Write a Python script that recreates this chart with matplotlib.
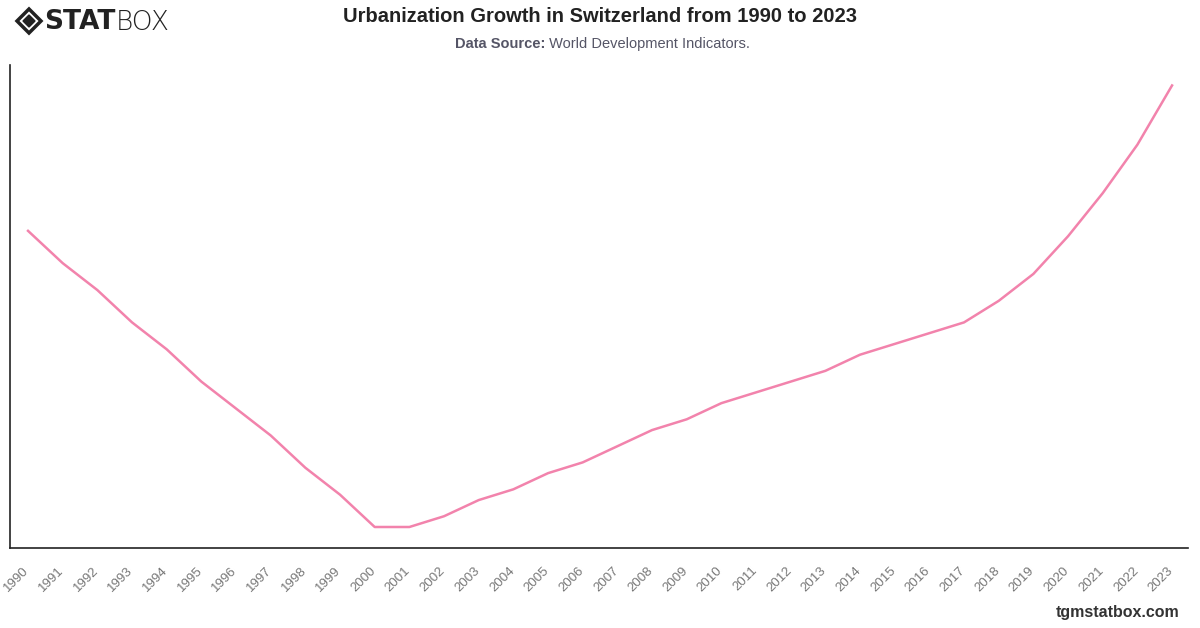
import matplotlib
matplotlib.use("Agg")
import matplotlib.pyplot as plt
import matplotlib.transforms as mtransforms
from matplotlib.patches import RegularPolygon

# Urban population (% of total), Switzerland
years = list(range(1990, 2024))
urban_pct = [73.85, 73.79, 73.74, 73.68, 73.63, 73.57, 73.52, 73.47, 73.41, 73.36,
             73.30, 73.30, 73.32, 73.35, 73.37, 73.40, 73.42, 73.45, 73.48, 73.50,
             73.53, 73.55, 73.57, 73.59, 73.62, 73.64, 73.66, 73.68, 73.72, 73.77,
             73.84, 73.92, 74.01, 74.12]
year_labels = [str(y) for y in years]

title = "Urbanization Growth in Switzerland from 1990 to 2023"
source_bold = "Data Source:"
source_text = " World Development Indicators."
footer = "tgmstatbox.com"

plt.rcParams['font.family'] = ['Liberation Sans', 'DejaVu Sans']

fig = plt.figure(figsize=(12, 6.28), dpi=100)
ax = fig.add_axes([10 / 1200, 1 - 548 / 628, 1178 / 1200, 483 / 628])

ax.plot(years, urban_pct, color='#f283ac', linewidth=1.8)

ax.set_xlim(1989.48, 2023.46)
ax.set_ylim(73.261, 74.158)
ax.set_xticks(years)
ax.set_xticklabels(year_labels, rotation=45, ha='right', rotation_mode='anchor',
                   color='#777777', fontsize=9.5)
ax.tick_params(axis='x', length=0, pad=6)
# nudge labels left/down like the original
shift = mtransforms.ScaledTranslation(-5 / 100, -8 / 100, fig.dpi_scale_trans)
for lbl in ax.get_xticklabels():
    lbl.set_transform(lbl.get_transform() + shift)
ax.set_yticks([])
for s in ['top', 'right']:
    ax.spines[s].set_visible(False)
for s in ['left', 'bottom']:
    ax.spines[s].set_color('#222222')
    ax.spines[s].set_linewidth(1.2)

# titles
fig.text(0.5, 1 - 17 / 628, title, ha='center', va='center',
         fontsize=14.5, fontweight='bold', color='#222222')
t1 = fig.text(0.5, 1 - 44 / 628, source_bold + source_text, ha='center', va='center',
              fontsize=10.5, color='#ffffff')
fig.canvas.draw()
bb = t1.get_window_extent()
x0 = bb.x0 / 1200
tb = fig.text(x0, 1 - 44 / 628, source_bold, ha='left', va='center',
              fontsize=10.5, fontweight='bold', color='#555566')
fig.canvas.draw()
bb2 = tb.get_window_extent()
fig.text(bb2.x1 / 1200, 1 - 44 / 628, source_text, ha='left', va='center',
         fontsize=10.5, color='#555566')
t1.remove()

# logo
logo = fig.add_axes([0, 1 - 45 / 628, 200 / 1200, 45 / 628])
logo.set_xlim(0, 200)
logo.set_ylim(45, 0)
logo.axis('off')
logo.add_patch(RegularPolygon((29, 21), 4, radius=12, orientation=0,
                              facecolor='none', edgecolor='#222222', linewidth=2.5))
logo.add_patch(RegularPolygon((29, 21), 4, radius=6, orientation=0,
                              facecolor='#222222', edgecolor='#222222'))
st = logo.text(44, 22, "STAT", ha='left', va='center', fontsize=19,
               fontweight='black', color='#222222', family=['DejaVu Sans'])
fig.canvas.draw()
bb3 = st.get_window_extent()
logo.text(44 + (bb3.x1 - bb3.x0), 22, "BOX", ha='left', va='center', fontsize=19,
          fontweight='light', color='#222222', family=['DejaVu Sans'])

fig.text(1 - 20 / 1200, 1 - 612 / 628, footer, ha='right', va='center',
         fontsize=11.5, fontweight='bold', color='#333333')

fig.savefig('out.png', dpi=100, facecolor='white')
